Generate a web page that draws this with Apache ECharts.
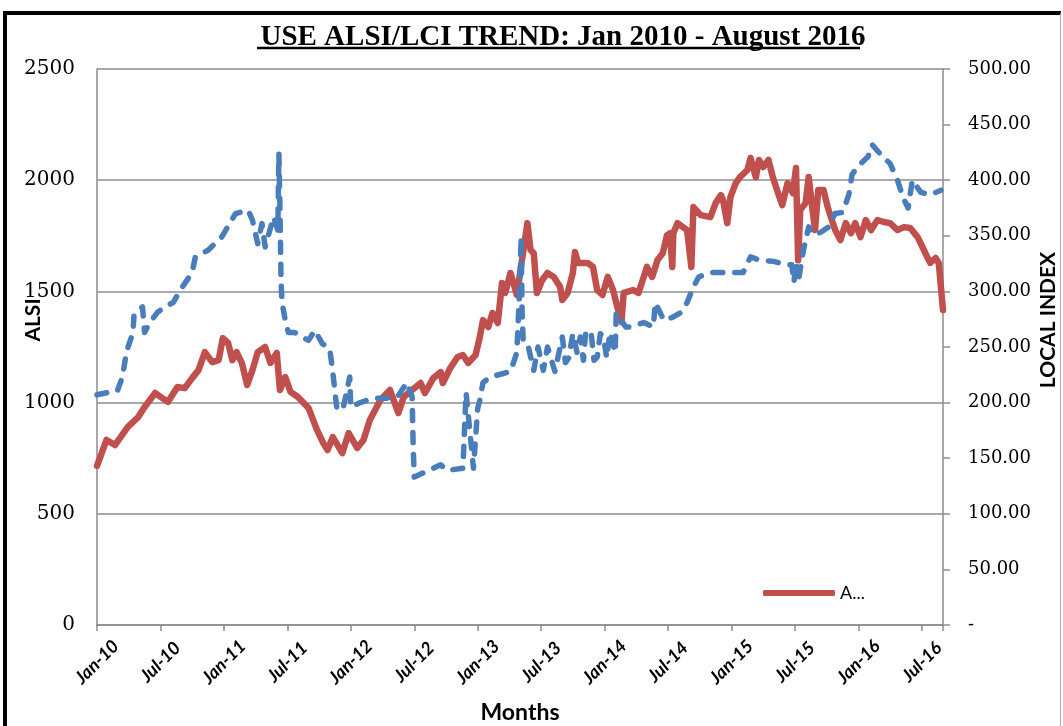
<!DOCTYPE html>
<html>
<head>
<meta charset="utf-8">
<title>USE ALSI/LCI TREND</title>
<script src="https://cdn.jsdelivr.net/npm/echarts@6/dist/echarts.min.js"></script>
<style>
  html, body { margin: 0; padding: 0; background: #fff; }
  #main { width: 1063px; height: 726px; }
  #frame {
    position: absolute; left: 3px; top: 11px; width: 1053px; height: 730px;
    border-left: 4px solid #000; border-top: 4px solid #000; border-right: 1px solid #aaa;
    pointer-events: none;
  }
</style>
</head>
<body>
<div id="main"></div>
<div id="frame"></div>
<script>
// x positions are months counted from Jan 2010 (0 = Jan-10, 78 = Jul-16)
const tickLabels = ['Jan-10', 'Jul-10', 'Jan-11', 'Jul-11', 'Jan-12', 'Jul-12', 'Jan-13',
  'Jul-13', 'Jan-14', 'Jul-14', 'Jan-15', 'Jul-15', 'Jan-16', 'Jul-16'];

// ALSI (left axis)
const alsiMonths = [0, 0.9, 1.7, 2.9, 3.9, 4.5, 5.5, 6.7, 7.6, 8.3,
  9.0, 9.6, 10.2, 10.9, 11.5, 11.9, 12.4, 12.8, 13.2, 13.7,
  14.2, 14.7, 15.2, 15.9, 16.4, 17.0, 17.3, 17.8, 18.3, 19.0,
  20.0, 20.8, 21.4, 21.8, 22.3, 23.2, 23.8, 24.6, 25.2, 25.8,
  26.3, 26.8, 27.7, 28.5, 29.0, 29.8, 30.6, 31.0, 31.8, 32.5,
  32.7, 33.4, 34.1, 34.6, 35.1, 35.8, 36.2, 36.5, 37.0, 37.4,
  37.9, 38.3, 38.6, 39.1, 39.7, 40.7, 41.0, 41.3, 41.6, 42.1,
  42.6, 43.2, 43.8, 44.0, 44.5, 45.0, 45.2, 45.5, 46.4, 46.9,
  47.3, 47.8, 48.3, 48.8, 49.2, 49.6, 49.8, 50.7, 51.2, 51.7,
  52.0, 52.5, 53.0, 53.5, 53.9, 54.2, 54.4, 54.5, 54.9, 55.8,
  56.2, 56.4, 57.1, 58.0, 58.5, 59.0, 59.2, 59.6, 59.9, 60.4,
  60.8, 61.5, 61.8, 62.3, 62.6, 63.0, 63.5, 63.9, 64.4, 64.8,
  65.3, 65.8, 66.1, 66.3, 66.5, 67.0, 67.3, 67.7, 67.9, 68.2,
  68.7, 69.1, 69.4, 69.8, 70.3, 70.8, 71.3, 71.7, 72.2, 72.7,
  73.2, 73.8, 74.4, 75.0, 75.7, 76.3, 76.9, 77.6, 78.1, 78.5,
  78.8, 79.3, 79.6, 80.0];
const alsiValues = [715, 832, 809, 890, 935, 980, 1043, 1003, 1070, 1065,
  1110, 1146, 1227, 1182, 1191, 1290, 1268, 1191, 1227, 1178,
  1079, 1146, 1227, 1250, 1178, 1223, 1057, 1115, 1048, 1025,
  976, 877, 818, 787, 845, 773, 863, 796, 832, 922,
  967, 1012, 1057, 953, 1025, 1057, 1088, 1043, 1110, 1137,
  1088, 1155, 1205, 1214, 1178, 1214, 1295, 1371, 1340, 1403,
  1358, 1538, 1493, 1583, 1484, 1807, 1686, 1672, 1493, 1551,
  1583, 1565, 1520, 1461, 1493, 1583, 1677, 1628, 1628, 1610,
  1506, 1484, 1565, 1506, 1430, 1362, 1493, 1506, 1493, 1565,
  1610, 1565, 1641, 1672, 1753, 1762, 1610, 1762, 1807, 1776,
  1610, 1879, 1843, 1834, 1897, 1933, 1911, 1807, 1924, 1987,
  2014, 2046, 2100, 2014, 2091, 2059, 2091, 2014, 1942, 1888,
  1987, 1942, 2055, 1640, 1866, 1897, 2014, 1852, 1776, 1956,
  1956, 1879, 1834, 1776, 1731, 1807, 1762, 1807, 1744, 1821,
  1776, 1821, 1812, 1807, 1776, 1789, 1785, 1744, 1695, 1655,
  1628, 1650, 1628, 1416];

// Local index (right axis)
const lciMonths = [0.0, 1.0, 1.9, 2.4, 2.8, 3.4, 3.5, 4.3, 4.5, 5.0,
  5.7, 6.4, 7.2, 8.0, 9.0, 9.3, 10.5, 11.8, 13.1, 14.3,
  14.7, 15.2, 15.6, 15.9, 16.7, 17.1, 17.2, 17.3, 17.4, 17.5,
  17.8, 18.1, 18.7, 19.4, 20.0, 20.6, 21.3, 22.0, 22.3, 22.7,
  23.3, 23.9, 24.0, 24.9, 26.1, 27.4, 28.4, 29.3, 29.8, 29.9,
  30.0, 30.9, 32.5, 33.1, 34.6, 34.9, 35.6, 36.0, 36.2, 36.5,
  37.2, 39.1, 39.7, 40.0, 40.1, 40.2, 40.3, 40.7, 41.3, 41.7,
  42.2, 42.6, 43.3, 44.0, 44.3, 44.6, 45.0, 45.4, 45.7, 46.0,
  46.2, 46.7, 47.0, 47.3, 47.6, 47.9, 48.2, 48.5, 49.0, 49.1,
  50.0, 50.4, 51.7, 52.6, 52.8, 53.6, 54.5, 55.2, 55.8, 56.4,
  56.9, 58.0, 59.0, 59.9, 61.1, 61.8, 62.7, 64.0, 65.1, 65.7,
  65.9, 66.1, 66.3, 66.8, 67.3, 67.8, 68.4, 69.2, 69.8, 70.5,
  71.1, 71.4, 71.9, 72.9, 73.3, 74.4, 75.0, 75.7, 76.2, 76.7,
  77.1, 77.9, 78.8, 79.8];
const lciValues = [207, 209, 210, 223, 246, 263, 279, 286, 263, 272,
  281, 286, 290, 303, 317, 331, 337, 349, 370, 373,
  364, 343, 361, 340, 367, 355, 424, 376, 310, 290,
  274, 263, 263, 259, 256, 265, 253, 249, 227, 193,
  196, 223, 196, 200, 204, 204, 205, 218, 205, 160,
  133, 137, 144, 139, 141, 209, 141, 195, 202, 218,
  223, 228, 245, 310, 349, 281, 256, 254, 229, 250,
  229, 250, 228, 259, 236, 240, 262, 245, 259, 238,
  262, 265, 238, 241, 262, 259, 240, 263, 245, 281,
  268, 268, 272, 268, 290, 274, 277, 281, 290, 304,
  313, 317, 317, 317, 317, 331, 328, 327, 324, 324,
  308, 326, 308, 337, 358, 351, 353, 358, 370, 371,
  387, 405, 412, 421, 432, 420, 415, 400, 385, 375,
  400, 389, 387, 391];

const alsiData = alsiMonths.map((m, i) => [m, alsiValues[i]]);
const lciData = lciMonths.map((m, i) => [m, lciValues[i]]);

const gridColor = '#8c8c8c';
const chart = echarts.init(document.getElementById('main'));

chart.setOption({
  backgroundColor: '#fff',
  animation: false,
  title: {
    text: 'USE ALSI/LCI TREND: Jan 2010 - August 2016',
    left: 558,
    top: 18,
    textAlign: 'center',
    textStyle: {
      fontFamily: 'Liberation Serif',
      fontWeight: 'bold',
      fontSize: 29,
      color: '#000'
    }
  },
  legend: {
    data: ['ALSI'],
    left: 758,
    top: 579,
    icon: 'roundRect',
    itemWidth: 72,
    itemHeight: 6,
    formatter: () => 'A...',
    textStyle: { fontFamily: 'Lato', fontSize: 18, color: '#000' }
  },
  grid: { left: 97, right: 120, top: 69, bottom: 101, containLabel: false, outerBoundsMode: 'none' },
  xAxis: {
    type: 'value',
    min: 0,
    max: 80,
    interval: 6,
    name: 'Months',
    nameLocation: 'middle',
    nameGap: 76,
    nameMoveOverlap: false,
    nameTextStyle: { fontFamily: 'Lato', fontWeight: 'bold', fontSize: 23, color: '#000' },
    axisLine: { show: true, lineStyle: { color: gridColor, width: 1.5 } },
    axisTick: { show: true, length: 6, lineStyle: { color: gridColor, width: 1.5 } },
    splitLine: { show: false },
    axisLabel: {
      rotate: 45,
      align: 'center',
      verticalAlign: 'middle',
      margin: 37,
      hideOverlap: false,
      fontFamily: 'Lato',
      fontWeight: 'bold',
      fontStyle: 'italic',
      fontSize: 18,
      color: '#000',
      formatter: v => (v % 6 === 0 && tickLabels[v / 6]) || ''
    }
  },
  yAxis: [
    {
      type: 'value',
      min: 0,
      max: 2500,
      interval: 500,
      name: 'ALSI',
      nameLocation: 'middle',
      nameRotate: 90,
      nameGap: 53,
      nameMoveOverlap: false,
      nameTextStyle: { fontFamily: 'Lato', fontWeight: 'bold', fontSize: 21, color: '#000', padding: [0, 0, 0, 54] },
      axisLine: { show: true, lineStyle: { color: gridColor, width: 1.5 } },
      axisTick: { show: false },
      splitLine: { show: true, lineStyle: { color: gridColor, width: 1.5 } },
      axisLabel: {
        fontFamily: 'DejaVu Serif', fontSize: 20, color: '#000', margin: 22,
        formatter: v => String(v)
      }
    },
    {
      type: 'value',
      position: 'right',
      min: 0,
      max: 500,
      interval: 50,
      name: 'LOCAL INDEX',
      nameLocation: 'middle',
      nameRotate: 90,
      nameGap: 95,
      nameMoveOverlap: false,
      nameTextStyle: { fontFamily: 'Lato', fontWeight: 'bold', fontSize: 21, color: '#000', padding: [0, 0, 0, 54] },
      axisLine: { show: true, lineStyle: { color: gridColor, width: 1.5 } },
      axisTick: { show: true, inside: false, length: 7, lineStyle: { color: gridColor, width: 1.5 } },
      splitLine: { show: false },
      axisLabel: {
        fontFamily: 'DejaVu Serif', fontSize: 18, color: '#000', margin: 25,
        formatter: v => (v === 0 ? '-' : v.toFixed(2))
      }
    }
  ],
  graphic: [
    {
      type: 'line',
      shape: { x1: 257, y1: 48, x2: 860, y2: 48 },
      style: { stroke: '#000', lineWidth: 2.5 }
    }
  ],
  series: [
    {
      name: 'ALSI',
      type: 'line',
      yAxisIndex: 0,
      data: alsiData,
      showSymbol: false,
      color: '#C0504D',
      lineStyle: { color: '#C0504D', width: 6.5, cap: 'round', join: 'round' }
    },
    {
      name: 'LOCAL INDEX',
      type: 'line',
      yAxisIndex: 1,
      data: lciData,
      showSymbol: false,
      color: '#4A7EBB',
      lineStyle: { color: '#4A7EBB', width: 5.5, type: [10, 12], cap: 'round', join: 'round' }
    }
  ]
});
</script>
</body>
</html>
